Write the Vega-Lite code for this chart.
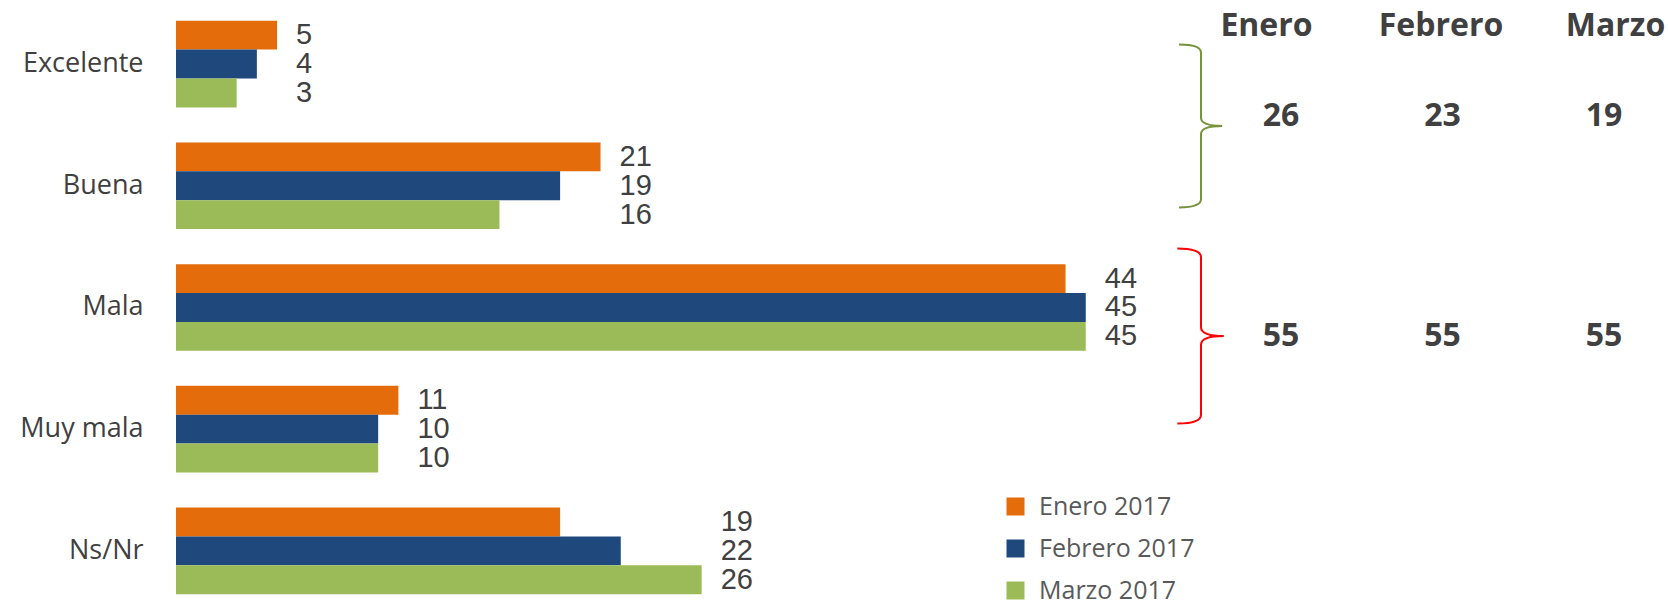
{
  "$schema": "https://vega.github.io/schema/vega-lite/v6.json",
  "width": 1492,
  "height": 600,
  "autosize": "none",
  "padding": {"left": 176, "top": 3, "right": 0, "bottom": 3},
  "background": "white",
  "config": {"view": {"stroke": null}, "font": "Open Sans"},
  "datasets": {
    "resp": [
      {"cat": "Excelente", "serie": "Enero 2017", "valor": 5},
      {"cat": "Excelente", "serie": "Febrero 2017", "valor": 4},
      {"cat": "Excelente", "serie": "Marzo  2017", "valor": 3},
      {"cat": "Buena", "serie": "Enero 2017", "valor": 21},
      {"cat": "Buena", "serie": "Febrero 2017", "valor": 19},
      {"cat": "Buena", "serie": "Marzo  2017", "valor": 16},
      {"cat": "Mala", "serie": "Enero 2017", "valor": 44},
      {"cat": "Mala", "serie": "Febrero 2017", "valor": 45},
      {"cat": "Mala", "serie": "Marzo  2017", "valor": 45},
      {"cat": "Muy mala", "serie": "Enero 2017", "valor": 11},
      {"cat": "Muy mala", "serie": "Febrero 2017", "valor": 10},
      {"cat": "Muy mala", "serie": "Marzo  2017", "valor": 10},
      {"cat": "Ns/Nr", "serie": "Enero 2017", "valor": 19},
      {"cat": "Ns/Nr", "serie": "Febrero 2017", "valor": 22},
      {"cat": "Ns/Nr", "serie": "Marzo  2017", "valor": 26}
    ],
    "resumen": [
      {"mes": "Enero", "grupo": "Excelente + Buena", "valor": 26},
      {"mes": "Febrero", "grupo": "Excelente + Buena", "valor": 23},
      {"mes": "Marzo", "grupo": "Excelente + Buena", "valor": 19},
      {"mes": "Enero", "grupo": "Mala + Muy mala", "valor": 55},
      {"mes": "Febrero", "grupo": "Mala + Muy mala", "valor": 55},
      {"mes": "Marzo", "grupo": "Mala + Muy mala", "valor": 55}
    ]
  },
  "layer": [
    {
      "data": {"name": "resp"},
      "encoding": {
        "y": {
          "field": "cat",
          "type": "nominal",
          "sort": ["Excelente", "Buena", "Mala", "Muy mala", "Ns/Nr"],
          "scale": {"paddingInner": 0.288, "paddingOuter": 0.109, "align": 0.668},
          "axis": {
            "title": null,
            "ticks": false,
            "tickSize": 0,
            "domain": false,
            "grid": false,
            "labelPadding": 33,
            "labelFontSize": 27,
            "labelFont": "Open Sans",
            "labelColor": "#404040"
          }
        },
        "yOffset": {
          "field": "serie",
          "type": "nominal",
          "sort": ["Enero 2017", "Febrero 2017", "Marzo  2017"],
          "scale": {"paddingInner": 0, "paddingOuter": 0}
        }
      },
      "layer": [
        {
          "mark": {"type": "bar"},
          "encoding": {
            "x": {
              "field": "valor",
              "type": "quantitative",
              "scale": {"domain": [0, 73.8], "nice": false, "zero": true},
              "axis": null
            },
            "color": {
              "field": "serie",
              "type": "nominal",
              "scale": {
                "domain": ["Enero 2017", "Febrero 2017", "Marzo  2017"],
                "range": ["#E46C0A", "#1F497D", "#9BBB59"]
              },
              "legend": {
                "title": null,
                "orient": "none",
                "legendX": 827,
                "legendY": 491,
                "padding": 0,
                "symbolType": "square",
                "symbolSize": 324,
                "symbolStrokeWidth": 0,
                "labelFont": "Open Sans",
                "labelFontSize": 25,
                "labelColor": "#595959",
                "labelOffset": 11,
                "rowPadding": 16
              }
            }
          }
        },
        {
          "transform": [
            {"joinaggregate": [{"op": "max", "field": "valor", "as": "maxv"}], "groupby": ["cat"]}
          ],
          "mark": {
            "type": "text",
            "align": "left",
            "baseline": "middle",
            "dx": 19,
            "font": "Liberation Sans",
            "fontSize": 29,
            "color": "#404040"
          },
          "encoding": {
            "x": {
              "field": "maxv",
              "type": "quantitative",
              "scale": {"domain": [0, 73.8], "nice": false, "zero": true},
              "axis": null
            },
            "text": {"field": "valor", "type": "quantitative"}
          }
        }
      ]
    },
    {
      "data": {"name": "resumen"},
      "mark": {
        "type": "text",
        "align": "center",
        "baseline": "middle",
        "font": "Open Sans",
        "fontSize": 32,
        "fontWeight": "bold",
        "color": "#404040"
      },
      "encoding": {
        "x": {
          "field": "mes",
          "type": "nominal",
          "sort": ["Enero", "Febrero", "Marzo"],
          "scale": {"type": "point", "range": [1105, 1428], "padding": 0},
          "axis": null
        },
        "y": {
          "field": "grupo",
          "type": "nominal",
          "sort": ["Excelente + Buena", "Mala + Muy mala"],
          "scale": {"type": "point", "range": [113, 333], "padding": 0},
          "axis": null
        },
        "text": {"field": "valor", "type": "quantitative"}
      }
    },
    {
      "data": {"name": "resumen"},
      "transform": [{"filter": "datum.mes === 'Enero'"}],
      "mark": {
        "type": "point",
        "shape": "M -0.27 -1 Q 0 -1 0 -0.9 L 0 -0.1 Q 0 0 0.26 0 Q 0 0 0 0.1 L 0 0.9 Q 0 1 -0.27 1",
        "filled": false,
        "strokeWidth": 2,
        "opacity": 1,
        "xOffset": -65
      },
      "encoding": {
        "x": {
          "field": "mes",
          "type": "nominal",
          "scale": {"type": "point", "domain": ["Enero", "Febrero", "Marzo"], "range": [1090, 1439], "padding": 0},
          "axis": {
            "title": null,
            "orient": "top",
            "offset": -22,
            "ticks": false,
            "tickSize": 0,
            "domain": false,
            "grid": false,
            "labelPadding": 0,
            "labelAngle": 0,
            "labelBaseline": "middle",
            "labelFont": "Open Sans",
            "labelFontSize": 32,
            "labelFontWeight": "bold",
            "labelColor": "#404040"
          }
        },
        "y": {
          "field": "grupo",
          "type": "nominal",
          "scale": {"type": "point", "domain": ["Excelente + Buena", "Mala + Muy mala"], "range": [123, 333], "padding": 0},
          "axis": null
        },
        "size": {
          "field": "grupo",
          "type": "nominal",
          "scale": {"domain": ["Excelente + Buena", "Mala + Muy mala"], "range": [26569, 30625]},
          "legend": null
        },
        "stroke": {
          "field": "grupo",
          "type": "nominal",
          "scale": {
            "domain": ["Excelente + Buena", "Mala + Muy mala"],
            "range": ["#77933C", "#FF0000"]
          },
          "legend": null
        }
      }
    }
  ],
  "resolve": {
    "scale": {"x": "independent", "y": "independent"},
    "axis": {"x": "independent", "y": "independent"}
  }
}
